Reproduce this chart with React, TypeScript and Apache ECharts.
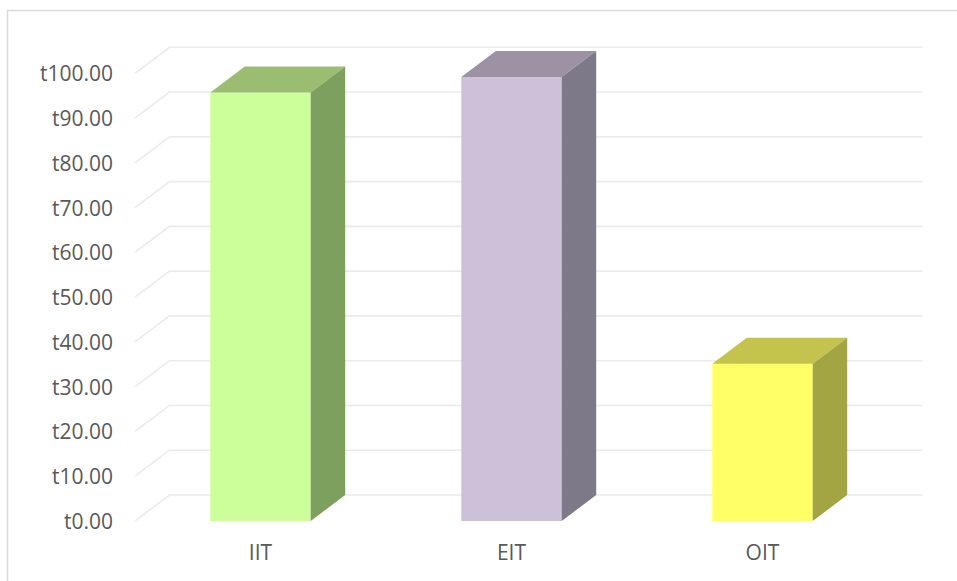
import React, { useEffect, useRef } from "react";
import * as echarts from "echarts";

const categories = ["IIT", "EIT", "OIT"];
const values = [95.7, 99.2, 35.1];
const yTicks = [0, 10, 20, 30, 40, 50, 60, 70, 80, 90, 100];

const frontColors = ["#CCFF99", "#CDC1DA", "#FFFF66"];
const topColors = ["#9BBD72", "#9D92A4", "#C3C34E"];
const sideColors = ["#7EA05E", "#7E7989", "#A3A442"];

const DX = 34.5;
const DY = -26;

export default function App() {
  const ref = useRef<HTMLDivElement>(null);
  useEffect(() => {
    if (!ref.current) return;
    const chart = echarts.init(ref.current, null, { renderer: "svg" });
    chart.setOption({
      animation: false,
      backgroundColor: "#FFFFFF",
      textStyle: { fontFamily: "Open Sans" },
      graphic: [
        {
          type: "rect",
          shape: { x: 7.5, y: 10.5, width: 2000, height: 2000 },
          style: { fill: "none", stroke: "#D9D9D9", lineWidth: 1.5 },
          silent: true,
          z: 0,
        },
      ],
      grid: { left: 135, right: 69, top: 73.3, bottom: 60, containLabel: false },
      xAxis: {
        type: "category",
        data: categories,
        axisLine: { show: false },
        axisTick: { show: false },
        axisLabel: {
          color: "#595959",
          fontSize: 21,
          fontFamily: "Open Sans",
          margin: 19,
          lineHeight: 24,
        },
      },
      yAxis: {
        type: "value",
        min: 0,
        max: 100,
        interval: 10,
        axisLine: { show: false },
        axisTick: { show: false },
        splitLine: { show: false },
        axisLabel: {
          color: "#595959",
          fontSize: 21,
          fontFamily: "Open Sans",
          margin: 22,
          formatter: (v: number) => "t" + v.toFixed(2),
        },
      },
      series: [
        {
          type: "custom",
          z: 1,
          silent: true,
          data: yTicks.map((t) => [0, t]),
          renderItem: (params: any, api: any) => {
            const cs = params.coordSys;
            const p = api.coord([0, api.value(1)]);
            const y = p[1];
            return {
              type: "polyline",
              shape: {
                points: [
                  [cs.x, y],
                  [cs.x + DX, y + DY],
                  [cs.x + cs.width + DX, y + DY],
                ],
              },
              style: { stroke: "#EBEBEB", lineWidth: 1.6, fill: "none" },
            };
          },
        },
        {
          type: "custom",
          z: 2,
          data: values.map((v, i) => [i, v]),
          renderItem: (params: any, api: any) => {
            const i = api.value(0);
            const top = api.coord([i, api.value(1)]);
            const base = api.coord([i, 0]);
            const w = api.size([1, 0])[0] * 0.4;
            const x0 = top[0] - w / 2;
            const x1 = top[0] + w / 2;
            const yt = top[1];
            const yb = base[1];
            return {
              type: "group",
              children: [
                {
                  type: "rect",
                  shape: { x: x0, y: yt, width: w, height: yb - yt },
                  style: { fill: frontColors[i] },
                },
                {
                  type: "polygon",
                  shape: {
                    points: [
                      [x0, yt],
                      [x0 + DX, yt + DY],
                      [x1 + DX, yt + DY],
                      [x1, yt],
                    ],
                  },
                  style: { fill: topColors[i] },
                },
                {
                  type: "polygon",
                  shape: {
                    points: [
                      [x1, yt],
                      [x1 + DX, yt + DY],
                      [x1 + DX, yb + DY],
                      [x1, yb],
                    ],
                  },
                  style: { fill: sideColors[i] },
                },
              ],
            };
          },
        },
      ],
    });
    return () => chart.dispose();
  }, []);
  return (
    <div
      ref={ref}
      style={{ position: "fixed", left: 0, top: 0, width: 957, height: 581 }}
    />
  );
}
